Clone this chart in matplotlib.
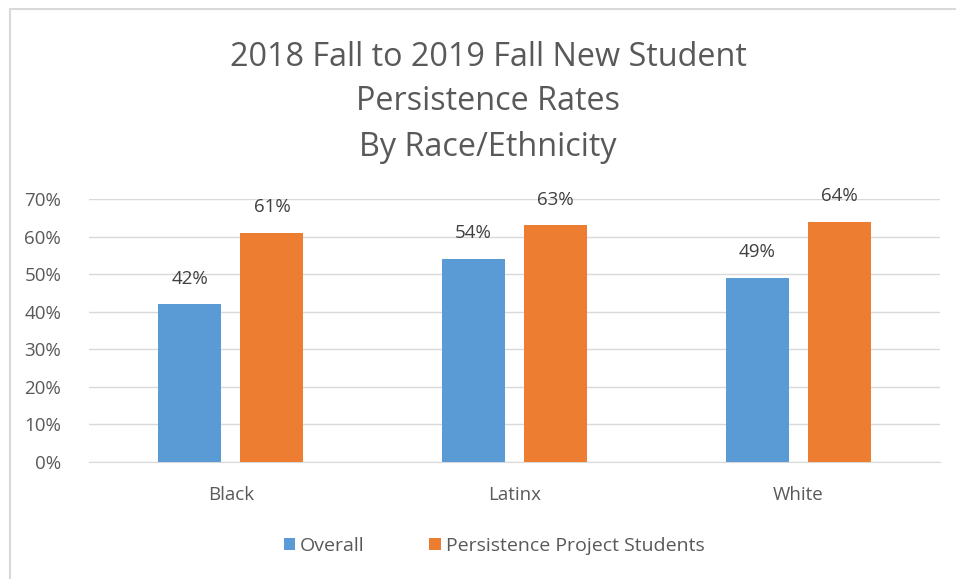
import numpy as np
import matplotlib.pyplot as plt
from matplotlib.patches import Rectangle

# chart data
categories = ['Black', 'Latinx', 'White']
overall = [42, 54, 49]
project = [61, 63, 64]
series_names = ['Overall', 'Persistence Project Students']
yticks = [0, 10, 20, 30, 40, 50, 60, 70]

blue = '#5B9BD5'
orange = '#ED7D31'
grey = '#595959'

plt.rcParams['font.family'] = ['Open Sans', 'DejaVu Sans']

fig = plt.figure(figsize=(9.56, 5.79), dpi=100)
ax = fig.add_axes([89/956, 1-462/579, 851/956, 263/579])

x = np.arange(len(categories))
w = 0.222
off = 0.145
b1 = ax.bar(x - off, overall, w, color=blue, label=series_names[0], zorder=3)
b2 = ax.bar(x + off, project, w, color=orange, label=series_names[1], zorder=3)

for bars, vals in ((b1, overall), (b2, project)):
    for b, v in zip(bars, vals):
        ax.annotate('%d%%' % v, (b.get_x() + b.get_width()/2, v), xytext=(0, 18.5),
                    textcoords='offset points', ha='center', va='center',
                    fontsize=13.5, color='#404040')

ax.set_xlim(-0.5, 2.5)
ax.set_ylim(0, 70)
ax.set_yticks(yticks)
ax.set_yticklabels(['%d%%' % t for t in yticks])
ax.set_xticks(x)
ax.set_xticklabels(categories)
ax.tick_params(axis='both', length=0, labelsize=13.5, colors=grey)
ax.tick_params(axis='y', pad=20)
ax.tick_params(axis='x', pad=17)
ax.grid(axis='y', color='#D9D9D9', linewidth=1, zorder=0)
for s in ['top', 'right', 'left']:
    ax.spines[s].set_visible(False)
ax.spines['bottom'].set_color('#D9D9D9')

fig.text(488/956, 1-102/579, '2018 Fall to 2019 Fall New Student\nPersistence Rates\nBy Race/Ethnicity',
         ha='center', va='center', fontsize=23.3, color=grey, linespacing=1.48)

leg = fig.legend(loc='center', bbox_to_anchor=(494/956, 1-546/579), ncol=2, frameon=False,
                 fontsize=14, handlelength=0.6, handleheight=0.6, columnspacing=3.3,
                 handletextpad=0.25)
for t in leg.get_texts():
    t.set_color(grey)

# outer chart border
fig.patches.append(Rectangle((9.5/956, -0.1), 1.2, 1 - 9.5/579 + 0.1, transform=fig.transFigure,
                             fill=False, edgecolor='#D9D9D9', linewidth=1.5))

fig.savefig('out.png', dpi=100)
